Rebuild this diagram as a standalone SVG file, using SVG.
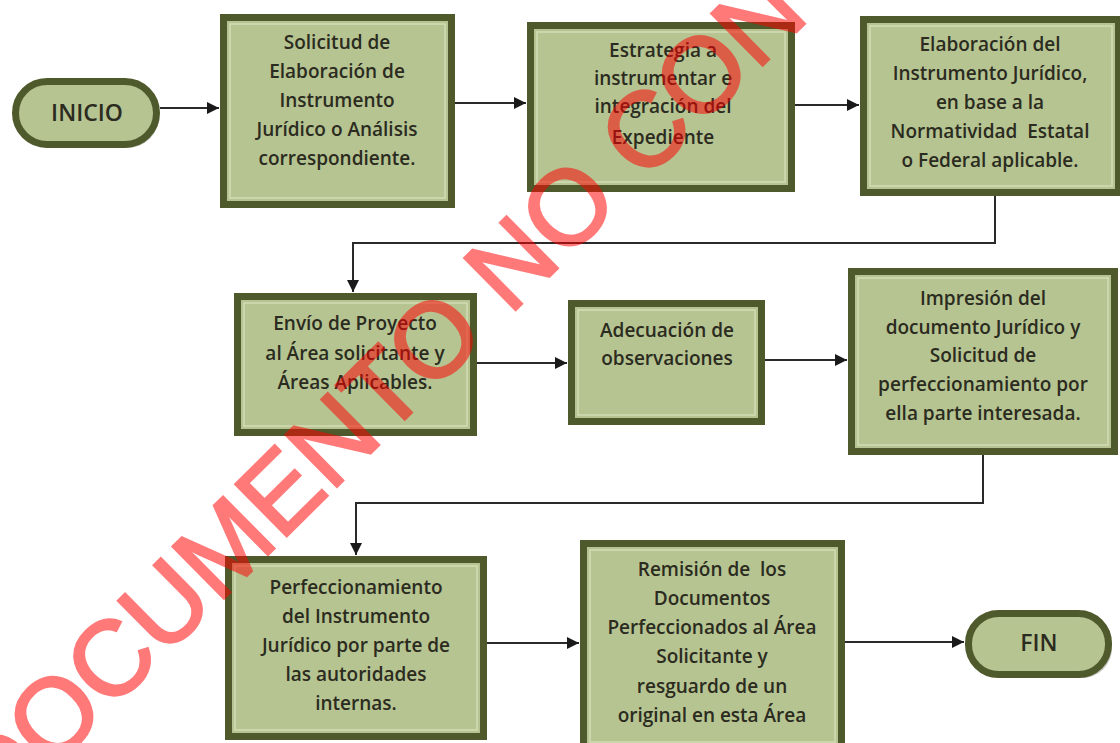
<svg xmlns="http://www.w3.org/2000/svg" width="1120" height="743" viewBox="0 0 1120 743">
<defs>
<style>
.box{fill:#b6c492;stroke:#4e5a2b;stroke-width:7}
.inner{fill:none;stroke:#d3dcb5;stroke-width:1.5}
.shadow{fill:#8a8a80;opacity:0.5}
.t{font-family:"Open Sans","Liberation Sans",sans-serif;font-weight:600;font-size:19px;fill:#2b2b20;text-anchor:middle}
.tl{font-family:"Open Sans","Liberation Sans",sans-serif;font-weight:600;font-size:23px;fill:#2b2b20;text-anchor:middle}
.c{fill:none;stroke:#2a2a2a;stroke-width:2}
.wm{font-family:"Liberation Sans",Arial,sans-serif;font-weight:normal;font-size:106px;fill:#ff0000;stroke:#ff0000;stroke-width:2.5;opacity:0.52}
</style>
<marker id="ah" markerUnits="userSpaceOnUse" markerWidth="12" markerHeight="12" refX="12" refY="6" orient="auto">
<path d="M0,0 L12,6 L0,12 z" fill="#1a1a1a"/>
</marker>
</defs>
<rect width="1120" height="743" fill="#ffffff"/>

<g id="connectors">
<path class="c" d="M160,108 H219" marker-end="url(#ah)"/>
<path class="c" d="M455,103 H526" marker-end="url(#ah)"/>
<path class="c" d="M795,105 H859" marker-end="url(#ah)"/>
<path class="c" d="M995,196 V243 H353 V292" marker-end="url(#ah)"/>
<path class="c" d="M477,363 H567" marker-end="url(#ah)"/>
<path class="c" d="M765,360 H847" marker-end="url(#ah)"/>
<path class="c" d="M983,455 V503 H356 V555" marker-end="url(#ah)"/>
<path class="c" d="M487,643 H579" marker-end="url(#ah)"/>
<path class="c" d="M845,642 H964" marker-end="url(#ah)"/>
</g>

<g id="inicio">
<rect class="shadow" x="18" y="85" width="141" height="63" rx="31.5"/>
<rect class="box" x="15.5" y="81.5" width="141" height="63" rx="31.5"/>
<text class="tl" x="87" y="121">INICIO</text>
</g>

<g id="n1">
<rect class="shadow" x="227" y="21" width="228" height="187"/>
<rect class="box" x="223.5" y="17.5" width="228" height="187"/>
<rect class="inner" x="230" y="24" width="215" height="174"/>
<text class="t" x="337" y="49">Solicitud de</text>
<text class="t" x="337" y="78">Elaboración de</text>
<text class="t" x="337" y="107">Instrumento</text>
<text class="t" x="337" y="136">Jurídico o Análisis</text>
<text class="t" x="337" y="165">correspondiente.</text>
</g>

<g id="n2">
<rect class="shadow" x="534" y="29" width="261" height="163"/>
<rect class="box" x="530.5" y="25.5" width="261" height="163"/>
<rect class="inner" x="537" y="32" width="248" height="150"/>
<text class="t" x="663" y="57">Estrategia a</text>
<text class="t" x="663" y="85">instrumentar e</text>
<text class="t" x="663" y="113">integración del</text>
<text class="t" x="663" y="144">Expediente</text>
</g>

<g id="n3">
<rect class="shadow" x="867" y="23" width="255" height="173"/>
<rect class="box" x="863.5" y="19.5" width="255" height="173"/>
<rect class="inner" x="870" y="26" width="242" height="160"/>
<text class="t" x="990" y="51">Elaboración del</text>
<text class="t" x="990" y="80">Instrumento Jurídico,</text>
<text class="t" x="990" y="109">en base a la</text>
<text class="t" x="990" y="138" xml:space="preserve">Normatividad  Estatal</text>
<text class="t" x="990" y="167">o Federal aplicable.</text>
</g>

<g id="n4">
<rect class="shadow" x="241" y="300" width="236" height="136"/>
<rect class="box" x="237.5" y="296.5" width="236" height="136"/>
<rect class="inner" x="244" y="303" width="223" height="123"/>
<text class="t" x="355" y="330">Envío de Proyecto</text>
<text class="t" x="355" y="360">al Área solicitante y</text>
<text class="t" x="355" y="389">Áreas Aplicables.</text>
</g>

<g id="n5">
<rect class="shadow" x="575" y="307" width="190" height="118"/>
<rect class="box" x="571.5" y="303.5" width="190" height="118"/>
<rect class="inner" x="578" y="310" width="177" height="105"/>
<text class="t" x="667" y="337">Adecuación de</text>
<text class="t" x="667" y="365">observaciones</text>
</g>

<g id="n6">
<rect class="shadow" x="855" y="275" width="263" height="180"/>
<rect class="box" x="851.5" y="271.5" width="263" height="180"/>
<rect class="inner" x="858" y="278" width="250" height="167"/>
<text class="t" x="983" y="305">Impresión del</text>
<text class="t" x="983" y="334">documento Jurídico y</text>
<text class="t" x="983" y="362">Solicitud de</text>
<text class="t" x="983" y="391">perfeccionamiento por</text>
<text class="t" x="983" y="420">ella parte interesada.</text>
</g>

<g id="n7">
<rect class="shadow" x="232" y="563" width="255" height="177"/>
<rect class="box" x="228.5" y="559.5" width="255" height="177"/>
<rect class="inner" x="235" y="566" width="242" height="164"/>
<text class="t" x="356" y="594">Perfeccionamiento</text>
<text class="t" x="356" y="623">del Instrumento</text>
<text class="t" x="356" y="652">Jurídico por parte de</text>
<text class="t" x="356" y="681">las autoridades</text>
<text class="t" x="356" y="710">internas.</text>
</g>

<g id="n8">
<rect class="shadow" x="587" y="547" width="258" height="205"/>
<rect class="box" x="583.5" y="543.5" width="258" height="205"/>
<rect class="inner" x="590" y="550" width="245" height="192"/>
<text class="t" x="712" y="576" xml:space="preserve">Remisión de  los</text>
<text class="t" x="712" y="605">Documentos</text>
<text class="t" x="712" y="634">Perfeccionados al Área</text>
<text class="t" x="712" y="663">Solicitante y</text>
<text class="t" x="712" y="693">resguardo de un</text>
<text class="t" x="712" y="722">original en esta Área</text>
</g>

<g id="fin">
<rect class="shadow" x="972" y="617" width="140" height="61" rx="30"/>
<rect class="box" x="968.5" y="613.5" width="140" height="61" rx="30"/>
<text class="tl" x="1039" y="651">FIN</text>
</g>

<text class="wm" transform="translate(-4,824) rotate(-44.7)">DOCUMENTO NO CONTROLADO</text>
</svg>
